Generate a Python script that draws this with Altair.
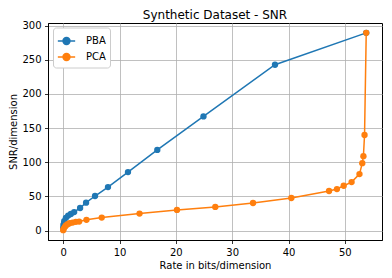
import altair as alt
import pandas as pd

pba_rate = [0.0, 0.05, 0.18, 0.48, 0.88, 1.36, 1.94, 3.0, 4.06, 5.65, 7.95, 11.5, 16.7, 24.9, 37.6, 53.8]
pba_snr = [4.0, 8.7, 13.5, 18.5, 21.8, 24.2, 27.0, 33.0, 40.8, 50.5, 63.6, 85.5, 118.0, 167.0, 242.7, 289.4]

pca_rate = [0.0, 0.07, 0.3, 0.48, 0.78, 1.13, 1.66, 2.24, 2.83, 4.13, 6.84, 13.55, 20.2, 27.0,
            33.7, 40.5, 47.2, 48.6, 49.8, 51.2, 52.6, 53.1, 53.3, 53.5, 53.8]
pca_snr = [0.5, 2.5, 5.4, 7.3, 9.2, 10.6, 11.6, 12.7, 13.1, 15.6, 18.9, 24.8, 30.1, 34.5,
           40.3, 47.6, 57.8, 60.7, 65.5, 70.9, 82.6, 98.6, 108.8, 139.8, 289.4]

series = ["PBA", "PCA"]
colors = ["#1f77b4", "#ff7f0e"]
x_ticks = [0, 10, 20, 30, 40, 50]
y_ticks = [0, 50, 100, 150, 200, 250, 300]

rows = []
for i, (r, s) in enumerate(zip(pba_rate, pba_snr)):
    rows.append({"series": "PBA", "rate": r, "snr": s, "idx": i})
for i, (r, s) in enumerate(zip(pca_rate, pca_snr)):
    rows.append({"series": "PCA", "rate": r, "snr": s, "idx": i})
df = pd.DataFrame(rows)

FONT = "DejaVu Sans"
legend_path = "M-1,0H1M-0.4,0A0.4,0.4 0 1,1 0.4,0A0.4,0.4 0 1,1 -0.4,0Z"

color = alt.Color(
    "series:N",
    scale=alt.Scale(domain=series, range=colors),
    legend=alt.Legend(
        title=None, orient="none", legendX=5, legendY=4.5,
        symbolType=legend_path, symbolSize=300, symbolStrokeWidth=1.5,
        labelFontSize=10, labelFont=FONT, labelColor="black", labelOffset=10,
        padding=4, rowPadding=0, strokeColor="#cccccc", fillColor="white",
        cornerRadius=3,
    ),
)

chart = alt.Chart(df).mark_line(
    strokeWidth=1.5,
    point=alt.OverlayMarkDef(filled=True, size=40, opacity=1),
).encode(
    x=alt.X("rate:Q", scale=alt.Scale(domain=[-2.7, 56.6], nice=False, zero=False),
            axis=alt.Axis(values=x_ticks, title="Rate in bits/dimension", format="d")),
    y=alt.Y("snr:Q", scale=alt.Scale(domain=[-13.9, 303.8], nice=False, zero=False),
            axis=alt.Axis(values=y_ticks, title="SNR/dimension", format="d")),
    color=color,
    order="idx:Q",
).properties(
    width=334, height=217,
    title=alt.TitleParams("Synthetic Dataset - SNR", fontSize=12, font=FONT, fontWeight="normal",
                          color="black", anchor="middle", offset=2, dy=3, frame="group"),
    autosize=alt.AutoSizeParams(type="none"),
    padding={"left": 40, "top": 15, "right": 2, "bottom": 30},
).configure_view(
    stroke="black", strokeWidth=1,
).configure_axis(
    labelFont=FONT, titleFont=FONT, labelFontSize=10, titleFontSize=10,
    labelColor="black", titleColor="black", titleFontWeight="normal",
    gridColor="#b0b0b0", gridWidth=0.8, gridOpacity=1,
    domainColor="black", tickColor="black", tickSize=3.5, tickWidth=0.8,
    labelPadding=3.5, labelFlush=False, labelOverlap=False,
).configure_axisX(
    titlePadding=3,
).configure_axisY(
    titlePadding=3,
)

chart.save("out.html", embed_options={"renderer": "svg", "actions": False})
